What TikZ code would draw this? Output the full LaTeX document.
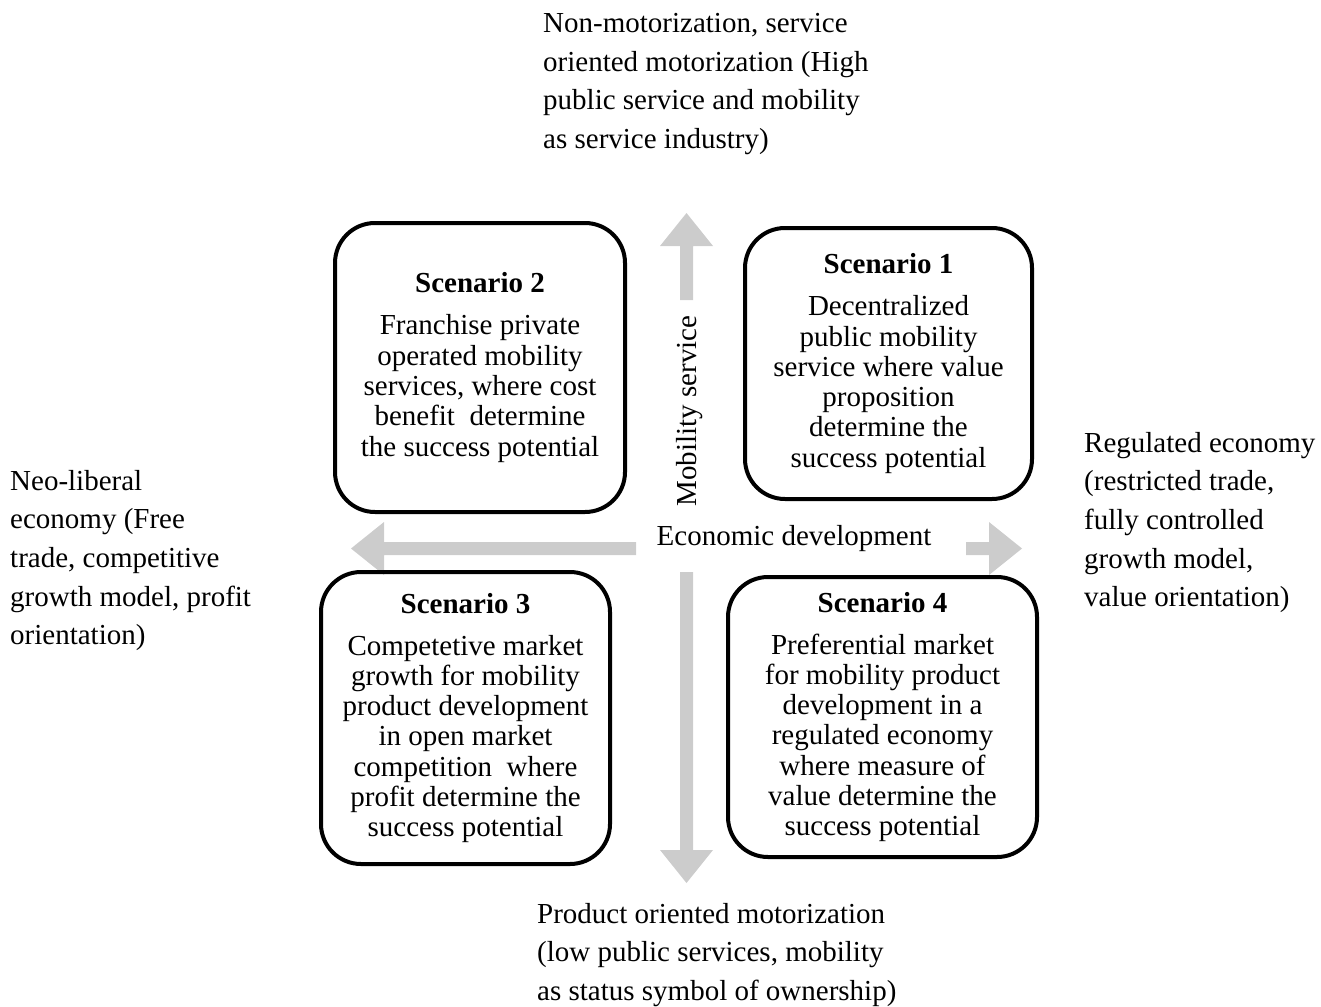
\documentclass[tikz,border=0pt]{standalone}
\usepackage{fontspec}
\setmainfont{Liberation Serif}
\definecolor{axisgray}{RGB}{204,204,204}
\begin{document}
\begin{tikzpicture}[x=1pt,y=-1pt,
  every node/.style={font=\fontsize{29}{30.3}\selectfont, inner sep=0pt},
  scen/.style={draw, line width=4pt, rounded corners=40pt, align=center},
  outer/.style={align=left, anchor=north west, font=\fontsize{29}{38.6}\selectfont},
  axisarrow/.style={fill=axisgray, draw=none}]
\useasboundingbox (0,0) rectangle (1321,1006);

% block arrows of the two axes
\fill[axisarrow] (680,300) -- (680,246) -- (660,246) -- (686.5,213) -- (713,246) -- (693,246) -- (693,300) -- cycle;
\fill[axisarrow] (680,572) -- (680,850) -- (660,850) -- (686.5,883) -- (713,850) -- (693,850) -- (693,572) -- cycle;
\fill[axisarrow] (636,542) -- (384,542) -- (384,522) -- (351,548.5) -- (384,575) -- (384,555) -- (636,555) -- cycle;
\fill[axisarrow] (966,542) -- (989,542) -- (989,522) -- (1022,548.5) -- (989,575) -- (989,555) -- (966,555) -- cycle;

% axis labels
\node[rotate=90] (mob) at (690,411) {Mobility service};
\node (eco) at (794,539) {Economic development};

% scenario boxes
\node[scen, minimum width=290pt, minimum height=289pt] (s2) at (480,367.5)
  {\textbf{Scenario 2}\\[11.7pt] Franchise private\\ operated mobility\\ services, where cost\\ benefit\ \ determine\\ the success potential};
\node[scen, minimum width=287pt, minimum height=271pt] (s1) at (888.5,363.5)
  {\textbf{Scenario 1}\\[11.7pt] Decentralized\\ public mobility\\ service where value\\ proposition\\ determine the\\ success potential};
\node[scen, minimum width=289pt, minimum height=292pt] (s3) at (465.5,718)
  {\textbf{Scenario 3}\\[11.7pt] Competetive market\\ growth for mobility\\ product development\\ in open market\\ competition\ \ where\\ profit determine the\\ success potential};
\node[scen, minimum width=309pt, minimum height=280pt] (s4) at (882.5,717)
  {\textbf{Scenario 4}\\[11.7pt] Preferential market\\ for mobility product\\ development in a\\ regulated economy\\ where measure of\\ value determine the\\ success potential};

% pole descriptions
\node[outer] (north) at (543,13) {Non-motorization, service\\ oriented motorization (High\\ public service and mobility\\ as service industry)};
\node[outer] (west) at (10,470) {Neo-liberal\\ economy (Free\\ trade, competitive\\ growth model, profit\\ orientation)};
\node[outer] (east) at (1084,432) {Regulated economy\\ (restricted trade,\\ fully controlled\\ growth model,\\ value orientation)};
\node[outer] (south) at (537,903) {Product oriented motorization\\ (low public services, mobility\\ as status symbol of ownership)};
\end{tikzpicture}
\end{document}
